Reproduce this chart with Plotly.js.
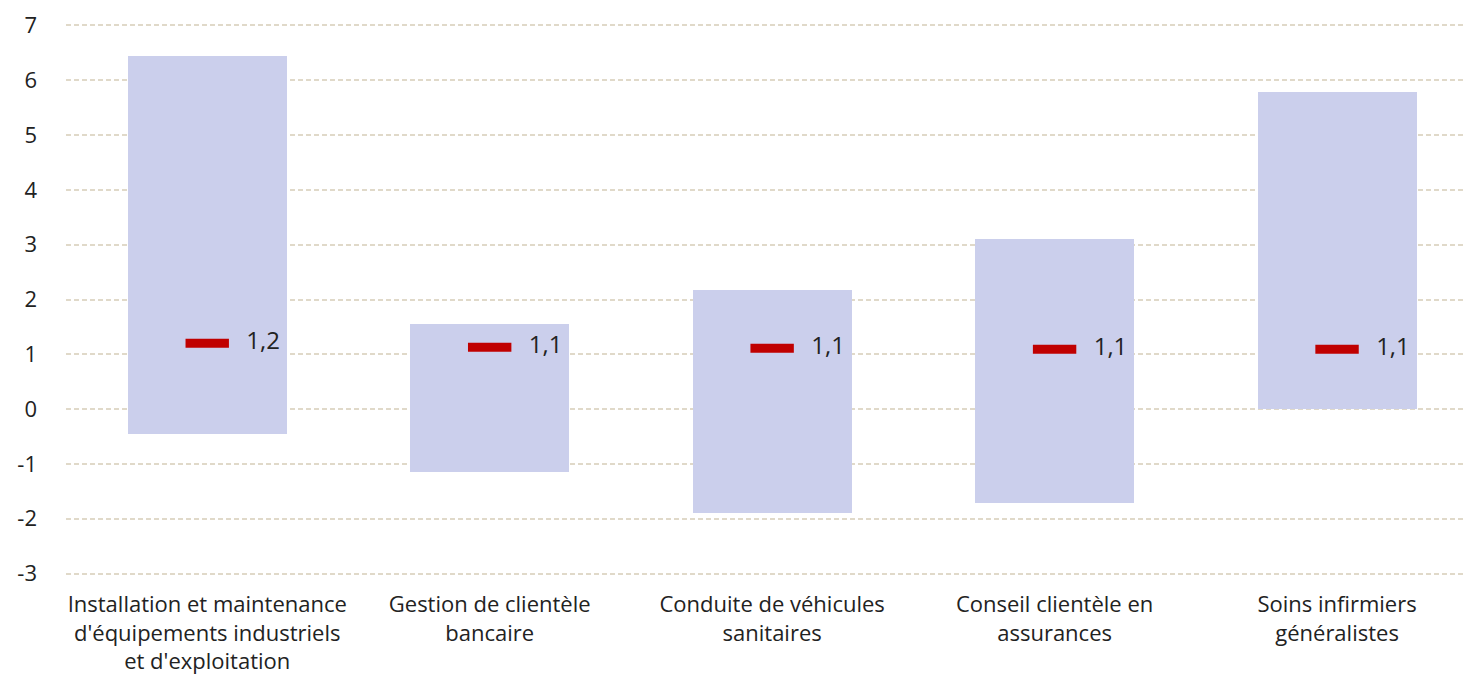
<!DOCTYPE html>
<html>
<head>
<meta charset="utf-8">
<script src="https://cdn.plot.ly/plotly-3.0.1.min.js"></script>
<style>
  html, body { margin: 0; padding: 0; background: #fff; }
  #chart { width: 1465px; height: 675px; }
</style>
</head>
<body>
<div id="chart"></div>
<script>
// categories (line breaks as in the reference)
const categories = [
  "Installation et maintenance<br>d'équipements industriels<br>et d'exploitation",
  "Gestion de clientèle<br>bancaire",
  "Conduite de véhicules<br>sanitaires",
  "Conseil clientèle en<br>assurances",
  "Soins infirmiers<br>généralistes"
];
// range bounds (low / high) and central value
const lows = [-0.46, -1.15, -1.90, -1.72, 0.0];
const highs = [6.44, 1.55, 2.17, 3.10, 5.78];
const values = [1.2, 1.13, 1.11, 1.09, 1.09];
const valueLabels = ["1,2", "1,1", "1,1", "1,1", "1,1"];
// y axis ticks (plain hyphen as in the reference)
const yTicks = [-3, -2, -1, 0, 1, 2, 3, 4, 5, 6, 7];
const yTickText = ["-3", "-2", "-1", "0", "1", "2", "3", "4", "5", "6", "7"];

const xIdx = categories.map((c, i) => i);
const FONT = '"Open Sans", "Noto Sans", sans-serif';

const rangeTrace = {
  type: 'bar',
  x: xIdx,
  y: highs.map((h, i) => h - lows[i]),
  base: lows,
  width: 0.563,
  marker: { color: '#CBCFEC' },
  hoverinfo: 'skip',
  showlegend: false
};

const valueTrace = {
  type: 'scatter',
  mode: 'markers+text',
  x: xIdx,
  y: values,
  text: valueLabels.map(t => '   ' + t),
  textposition: 'middle right',
  textfont: { family: FONT, size: 24, color: '#222' },
  marker: { symbol: 'line-ew', size: 31, color: '#C00000', line: { color: '#C00000', width: 9 } },
  cliponaxis: false,
  showlegend: false
};

const layout = {
  width: 1465,
  height: 675,
  margin: { l: 66, r: 0, t: 20, b: 96 },
  paper_bgcolor: '#ffffff',
  plot_bgcolor: '#ffffff',
  font: { family: FONT, color: '#222' },
  bargap: 0,
  xaxis: {
    range: [-0.5, 4.453],
    tickmode: 'array',
    tickvals: xIdx,
    ticktext: categories,
    tickfont: { family: FONT, size: 22, color: '#222' },
    showgrid: false,
    zeroline: false,
    showline: false,
    ticks: '',
    ticklabelstandoff: 10
  },
  yaxis: {
    range: [-3.1, 7.1],
    tickmode: 'array',
    tickvals: yTicks,
    ticktext: yTickText,
    tickfont: { family: FONT, size: 22, color: '#222' },
    showgrid: true,
    gridcolor: '#E0D9C9',
    griddash: '5px,3px',
    gridwidth: 2,
    zeroline: false,
    showline: false,
    ticks: '',
    ticklabelstandoff: 28
  }
};

Plotly.newPlot('chart', [rangeTrace, valueTrace], layout, { displayModeBar: false, staticPlot: true });
</script>
</body>
</html>
